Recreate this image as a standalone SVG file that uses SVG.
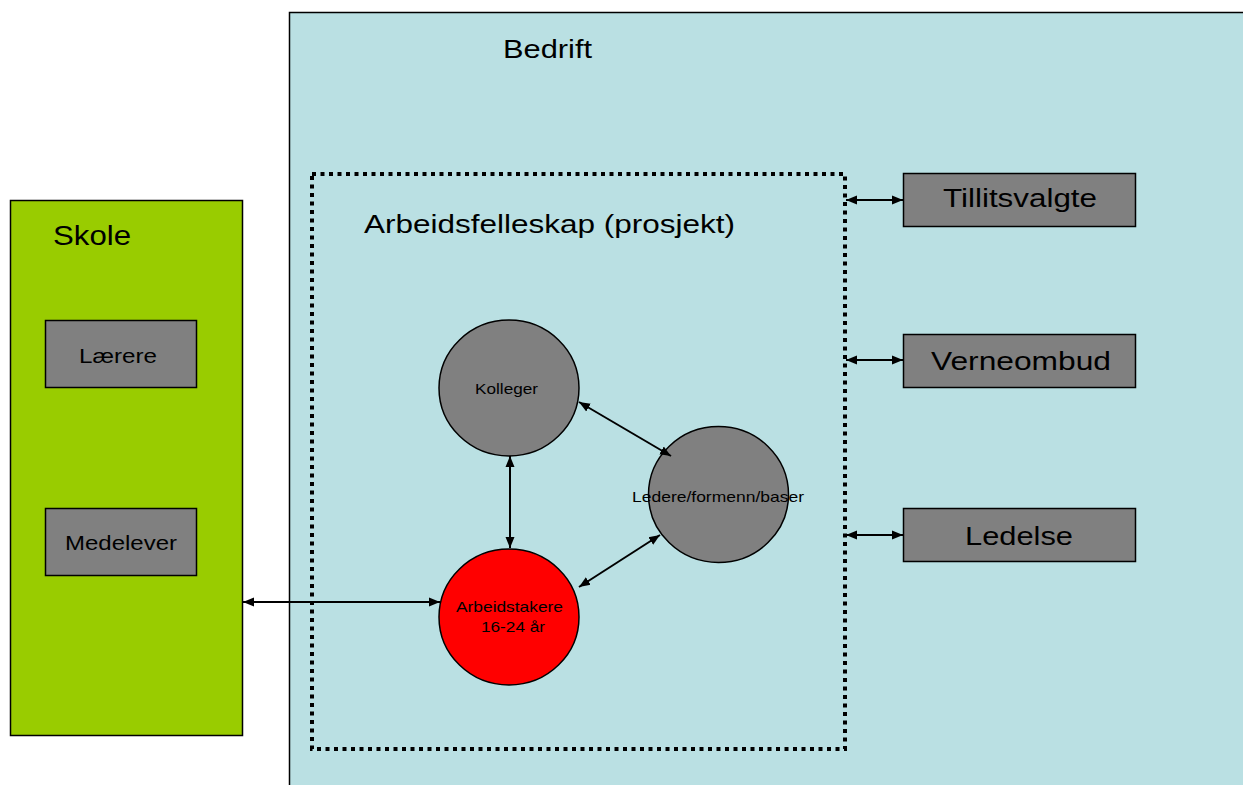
<svg xmlns="http://www.w3.org/2000/svg" width="1243" height="785" viewBox="0 0 1243 785">
<style>
text{font-family:"Liberation Sans",Arial,sans-serif;fill:#000}
.box{fill:#808080;stroke:#000;stroke-width:1.5}
.circ{stroke:#000;stroke-width:1.5}
.conn{stroke:#000;stroke-width:2;fill:none;marker-start:url(#ah);marker-end:url(#ah)}
</style>
<defs>
<marker id="ah" markerUnits="userSpaceOnUse" markerWidth="12" markerHeight="10" refX="11" refY="4.5" orient="auto-start-reverse" viewBox="0 0 12 9">
<path d="M0,0 L11,4.5 L0,9 z" fill="#000"/>
</marker>
</defs>
<rect width="1243" height="785" fill="#fff"/>
<g id="bedrift">
<rect x="289.5" y="12.5" width="1000" height="800" fill="#BAE0E3" stroke="#000" stroke-width="1.5"/>
<text x="503" y="58" font-size="26" textLength="89" lengthAdjust="spacingAndGlyphs">Bedrift</text>
</g>
<g id="arbeidsfelleskap">
<rect x="312" y="174" width="533" height="575" fill="none" stroke="#000" stroke-width="4" stroke-dasharray="4 4.5"/>
<text x="364" y="233" font-size="25" textLength="371" lengthAdjust="spacingAndGlyphs">Arbeidsfelleskap (prosjekt)</text>
</g>
<g id="skole">
<rect x="10.5" y="200.5" width="232" height="535" fill="#99CC00" stroke="#000" stroke-width="1.5"/>
<text x="53" y="245" font-size="28" textLength="78" lengthAdjust="spacingAndGlyphs">Skole</text>
</g>
<g id="laerere">
<rect class="box" x="45.5" y="320.5" width="151" height="67"/>
<text x="79" y="363" font-size="21" textLength="78" lengthAdjust="spacingAndGlyphs">Lærere</text>
</g>
<g id="medelever">
<rect class="box" x="45.5" y="508.5" width="151" height="67"/>
<text x="65" y="550" font-size="21" textLength="112" lengthAdjust="spacingAndGlyphs">Medelever</text>
</g>
<g id="tillitsvalgte">
<rect class="box" x="903.5" y="173.5" width="232" height="53"/>
<text x="943" y="207" font-size="25" textLength="154" lengthAdjust="spacingAndGlyphs">Tillitsvalgte</text>
</g>
<g id="verneombud">
<rect class="box" x="903.5" y="334.5" width="232" height="53"/>
<text x="931" y="370" font-size="25" textLength="180" lengthAdjust="spacingAndGlyphs">Verneombud</text>
</g>
<g id="ledelse">
<rect class="box" x="903.5" y="508.5" width="232" height="53"/>
<text x="965" y="545" font-size="26" textLength="108" lengthAdjust="spacingAndGlyphs">Ledelse</text>
</g>
<g id="kolleger">
<ellipse class="circ" cx="509" cy="388" rx="70" ry="68" fill="#808080"/>
<text x="475" y="394" font-size="15" textLength="63" lengthAdjust="spacingAndGlyphs">Kolleger</text>
</g>
<g id="ledere">
<ellipse class="circ" cx="718.5" cy="494.5" rx="70" ry="68" fill="#808080"/>
<text x="632" y="502" font-size="15" textLength="172" lengthAdjust="spacingAndGlyphs">Ledere/formenn/baser</text>
</g>
<g id="arbeidstakere">
<ellipse class="circ" cx="509" cy="617" rx="70" ry="68" fill="#FF0000"/>
<text x="456" y="612" font-size="15" textLength="107" lengthAdjust="spacingAndGlyphs">Arbeidstakere</text>
<text x="481" y="632" font-size="15" textLength="64" lengthAdjust="spacingAndGlyphs">16-24 år</text>
</g>
<g id="connectors">
<line class="conn" x1="510" y1="456" x2="510" y2="548"/>
<line class="conn" x1="579" y1="402" x2="671" y2="456"/>
<line class="conn" x1="579" y1="587" x2="660" y2="535"/>
<line class="conn" x1="243" y1="602" x2="440" y2="602"/>
<line class="conn" x1="846" y1="200" x2="903" y2="200"/>
<line class="conn" x1="846" y1="360" x2="903" y2="360"/>
<line class="conn" x1="846" y1="535" x2="903" y2="535"/>
</g>
</svg>
